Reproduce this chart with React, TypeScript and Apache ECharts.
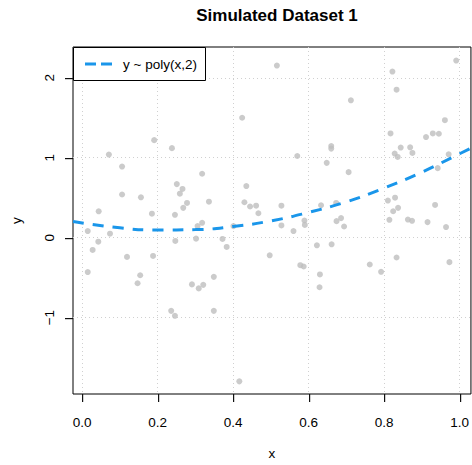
import React, { useEffect, useRef } from "react";
import * as echarts from "echarts";

const pointX = [
  0.424, 0.071, 0.191, 0.238, 0.106, 0.318, 0.251, 0.266, 0.259, 0.106,
  0.156, 0.435, 0.336, 0.278, 0.430, 0.268, 0.044, 0.445, 0.461, 0.467,
  0.185, 0.246, 0.318, 0.306, 0.401, 0.516, 0.822, 0.991, 0.833, 0.712,
  0.961, 0.817, 0.911, 0.929, 0.945, 0.660, 0.660, 0.844, 0.869, 0.875,
  0.828, 0.836, 0.570, 0.971, 0.648, 0.942, 0.706, 0.810, 0.829, 0.528,
  0.633, 0.673, 0.935, 0.837, 0.824, 0.528, 0.589, 0.590, 0.674, 0.686,
  0.694, 0.814, 0.863, 0.874, 0.915, 0.964, 0.560, 0.622, 0.661, 0.497,
  0.578, 0.587, 0.630, 0.629, 0.762, 0.792, 0.833, 0.973, 0.015, 0.074,
  0.043, 0.028, 0.015, 0.119, 0.188, 0.154, 0.147, 0.247, 0.302, 0.372,
  0.383, 0.291, 0.309, 0.321, 0.349, 0.236, 0.246, 0.349, 0.4165,
];
const pointY = [
  1.50, 1.04, 1.22, 1.12, 0.89, 0.80, 0.67, 0.61, 0.55, 0.54,
  0.505, 0.646, 0.45, 0.435, 0.443, 0.373, 0.33, 0.39, 0.40, 0.306,
  0.30, 0.286, 0.186, 0.145, 0.145, 2.153, 2.078, 2.215, 1.851, 1.718,
  1.47, 1.304, 1.259, 1.304, 1.30, 1.147, 1.114, 1.127, 1.13, 1.06,
  1.052, 1.01, 1.022, 1.043, 0.936, 0.87, 0.82, 0.464, 0.50, 0.40,
  0.406, 0.435, 0.41, 0.373, 0.331, 0.153, 0.215, 0.16, 0.207, 0.245,
  0.14, 0.224, 0.227, 0.211, 0.195, 0.133, 0.083, -0.095, -0.083, -0.22,
  -0.344, -0.36, -0.46, -0.62, -0.335, -0.427, -0.248, -0.306, 0.083, 0.05,
  -0.05, -0.153, -0.43, -0.24, -0.228, -0.47, -0.57, -0.041, -0.012, -0.016,
  -0.116, -0.584, -0.634, -0.59, -0.49, -0.915, -0.977, -0.915, -1.797,
];

// fitted curve y ~ poly(x,2)
const fitX = [-0.024, 0.1, 0.2, 0.3, 0.4, 0.5, 0.6, 0.7, 0.8, 0.9, 1.0, 1.03];
const fitY = [0.203, 0.123, 0.096, 0.101, 0.14, 0.21, 0.316, 0.448, 0.62, 0.82, 1.05, 1.12];

const xTicks = [0, 0.2, 0.4, 0.6, 0.8, 1.0];
const yTicks = [-1, 0, 1, 2];
const xRange = [-0.024, 1.03];
const yRange = [-1.955, 2.385];

const titleText = "Simulated Dataset 1";
const legendText = "y ~ poly(x,2)";
const xName = "x";
const yName = "y";

const FONT = "'Liberation Sans', Arial, Helvetica, sans-serif";
const BLUE = "#1a96ea";
const TICK_LEN = 8;

export default function App() {
  const ref = useRef<HTMLDivElement>(null);
  useEffect(() => {
    if (!ref.current) return;
    const chart = echarts.init(ref.current, null, { renderer: "svg" });
    const points = pointX.map((x, i) => [x, pointY[i]]);
    const fit = fitX.map((x, i) => [x, fitY[i]]);
    const splitStyle = { color: "#d0d0d0", type: [1, 3], width: 1 };

    chart.setOption({
      animation: false,
      backgroundColor: "#ffffff",
      title: {
        text: titleText,
        left: 272,
        top: 2,
        textAlign: "center",
        textStyle: { fontFamily: FONT, fontSize: 17, fontWeight: "bold", color: "#000" },
      },
      grid: {
        left: 73,
        right: 1,
        top: 47,
        bottom: 69,
        show: true,
        borderColor: "#000",
        borderWidth: 1,
        backgroundColor: "transparent",
      },
      xAxis: {
        type: "value",
        min: xRange[0],
        max: xRange[1],
        position: "bottom",
        name: xName,
        nameLocation: "middle",
        nameGap: 52,
        nameTextStyle: { fontFamily: FONT, fontSize: 13.5, color: "#000" },
        axisLine: { show: false, onZero: false },
        axisTick: { show: false, customValues: xTicks },
        axisLabel: {
          customValues: xTicks,
          margin: 21,
          fontFamily: FONT,
          fontSize: 13.5,
          color: "#000",
          formatter: (v: number) => v.toFixed(1),
        },
        splitLine: { show: true, lineStyle: splitStyle },
      },
      yAxis: {
        type: "value",
        min: yRange[0],
        max: yRange[1],
        position: "left",
        name: yName,
        nameLocation: "middle",
        nameGap: 50,
        nameRotate: 90,
        nameTextStyle: { fontFamily: FONT, fontSize: 13.5, color: "#000" },
        axisLine: { show: false, onZero: false },
        axisTick: { show: false, customValues: yTicks },
        axisLabel: {
          customValues: yTicks,
          rotate: 90,
          margin: 17,
          fontFamily: FONT,
          fontSize: 13.5,
          color: "#000",
          formatter: (v: number) => String(v).replace("-", "\u2212"),
        },
        splitLine: { show: true, lineStyle: splitStyle },
      },
      series: [
        {
          type: "scatter",
          data: points,
          symbol: "circle",
          symbolSize: 6,
          itemStyle: { color: "#bebebe" },
          z: 2,
        },
        {
          type: "line",
          name: legendText,
          data: fit,
          smooth: true,
          showSymbol: false,
          symbol: "none",
          lineStyle: { color: BLUE, width: 3, type: [11, 9] },
          z: 3,
        },
      ],
    });

    // axis ticks positioned through the chart's own scales
    const xBase = Number(chart.convertToPixel({ yAxisIndex: 0 }, yRange[0]));
    const yBase = Number(chart.convertToPixel({ xAxisIndex: 0 }, xRange[0]));
    const xTickEls = xTicks.map((v) => {
      const p = Math.round(Number(chart.convertToPixel({ xAxisIndex: 0 }, v))) + 0.5;
      return {
        type: "rect",
        silent: true,
        z: 20,
        shape: { x: p - 0.5, y: xBase, width: 1.2, height: TICK_LEN },
        style: { fill: "#111" },
      };
    });
    const yTickEls = yTicks.map((v) => {
      const p = Math.round(Number(chart.convertToPixel({ yAxisIndex: 0 }, v))) + 0.5;
      return {
        type: "rect",
        silent: true,
        z: 20,
        shape: { x: yBase - TICK_LEN, y: p - 0.5, width: TICK_LEN, height: 1.2 },
        style: { fill: "#111" },
      };
    });

    chart.setOption({
      graphic: {
        elements: [
          ...xTickEls,
          ...yTickEls,
          {
            type: "group",
            left: 73,
            top: 47,
            z: 10,
            children: [
              {
                type: "rect",
                shape: { x: 0.5, y: 0.5, width: 132, height: 33 },
                style: { fill: "#fff", stroke: "#000", lineWidth: 1 },
              },
              {
                type: "line",
                shape: { x1: 12, y1: 17, x2: 39, y2: 17 },
                style: { stroke: BLUE, lineWidth: 3, lineDash: [11, 5] },
              },
              {
                type: "text",
                x: 50,
                y: 17,
                style: {
                  text: legendText,
                  fontFamily: FONT,
                  fontSize: 13.5,
                  fill: "#000",
                  verticalAlign: "middle",
                  align: "left",
                },
              },
            ],
          },
        ],
      },
    });
    return () => chart.dispose();
  }, []);
  return (
    <div
      ref={ref}
      style={{ position: "fixed", left: 0, top: 0, width: 472, height: 465 }}
    />
  );
}
